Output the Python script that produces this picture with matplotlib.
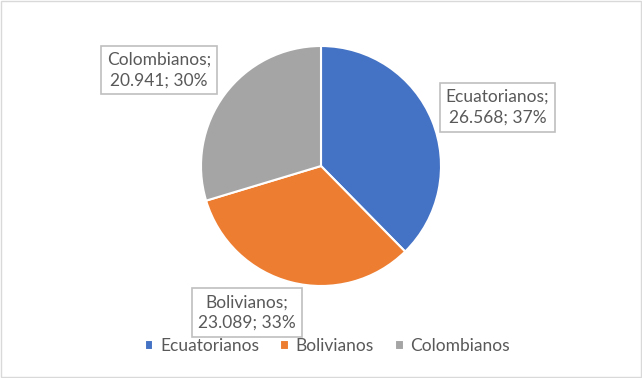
import matplotlib.pyplot as plt
from matplotlib.patches import Rectangle

# datos del gráfico
categorias = ['Ecuatorianos', 'Bolivianos', 'Colombianos']
valores = [26568, 23089, 20941]
etiquetas_valor = ['26.568', '23.089', '20.941']
porcentajes = [37, 33, 30]
colores = ['#4472C4', '#ED7D31', '#A5A5A5']

plt.rcParams['font.family'] = ['Lato', 'DejaVu Sans']
gris_texto = '#595959'

fig = plt.figure(figsize=(6.42, 3.78), dpi=100)
fig.patch.set_facecolor('white')
fig.patches.append(Rectangle((0.001, 0.002), 0.997, 0.995, transform=fig.transFigure,
                             fill=False, edgecolor='#D9D9D9', linewidth=1))

# centro (321,166) px, radio 120 px
ax = fig.add_axes([201 / 642, 92 / 378, 240 / 642, 240 / 378])
wedges, _ = ax.pie(valores, colors=colores, startangle=90, counterclock=False,
                   radius=1, wedgeprops=dict(edgecolor='white', linewidth=1.5))
ax.set_xlim(-1, 1)
ax.set_ylim(-1, 1)
ax.set_aspect('equal')
ax.axis('off')

pos_etiquetas = [(1.47, 0.49), (-0.62, -1.22), (-1.35, 0.80)]
for cat, txt, pct, (x, y) in zip(categorias, etiquetas_valor, porcentajes, pos_etiquetas):
    ax.text(x, y, f'{cat};\n{txt}; {pct}%', ha='center', va='center', fontsize=12.5,
            color=gris_texto, linespacing=1.35, clip_on=False,
            bbox=dict(boxstyle='square,pad=0.35', facecolor='white', edgecolor='#BFBFBF', linewidth=1.2))

leg = fig.legend(wedges, categorias, loc='center', bbox_to_anchor=(0.51, 1 - 346 / 378),
                 ncol=3, frameon=False, fontsize=12.5, handlelength=0.5, handleheight=0.5,
                 handletextpad=0.4, columnspacing=1.2)
for t in leg.get_texts():
    t.set_color(gris_texto)

fig.savefig('out.png', dpi=100)
